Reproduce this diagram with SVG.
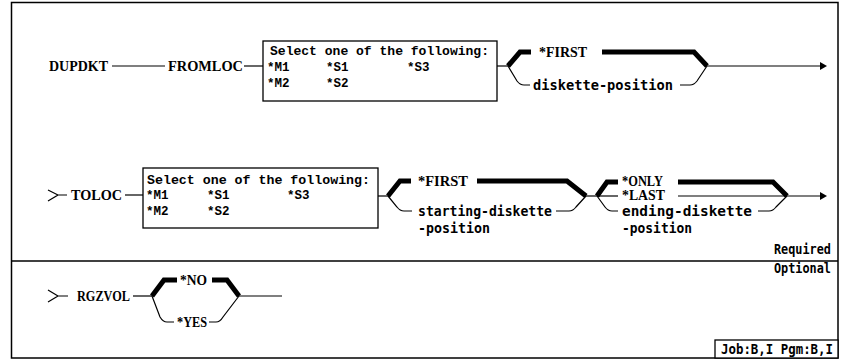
<svg xmlns="http://www.w3.org/2000/svg" width="842" height="361" viewBox="0 0 842 361">
<defs>
<style>
.kw{font-family:"Liberation Serif",serif;font-weight:bold;font-size:14px;fill:#000}
.mono{font-family:"Liberation Mono",monospace;font-weight:bold;font-size:12.5px;fill:#000}
.gth{font-family:"DejaVu Sans Mono",monospace;font-weight:bold;font-size:13.5px;fill:#000}
.thin{fill:none;stroke:#000;stroke-width:1.2}
.thick{fill:none;stroke:#000;stroke-width:5;stroke-linejoin:miter}
.box{fill:#fff;stroke:#000;stroke-width:1.3}
.arrow{fill:#000}
</style>
</defs>
<rect x="0" y="0" width="842" height="361" fill="#fff"/>
<g id="frame">
<rect x="11.5" y="2.5" width="826.5" height="355.5" fill="none" stroke="#000" stroke-width="1.5"/>
<line x1="11.5" y1="261" x2="838" y2="261" stroke="#000" stroke-width="1.5"/>
<text class="gth" x="774" y="254" font-size="12" textLength="57" lengthAdjust="spacingAndGlyphs">Required</text>
<text class="gth" x="774" y="273" font-size="12" textLength="57" lengthAdjust="spacingAndGlyphs">Optional</text>
</g>
<g id="job-box">
<rect x="715" y="340" width="123" height="18" fill="#fff" stroke="#000" stroke-width="1.3"/>
<text class="gth" x="721" y="354" font-size="11.5" textLength="112" lengthAdjust="spacingAndGlyphs">Job:B,I Pgm:B,I</text>
</g>
<g id="connectors">
<!-- row 1 -->
<path class="thin" d="M112,66 L165,66"/>
<path class="thin" d="M244,66 L263,66"/>
<path class="thin" d="M497,66 L508,66"/>
<path class="thick" d="M508,66 L520,52 L531,52"/>
<path class="thick" d="M602,52 L694,52 L707,66"/>
<path class="thin" d="M508,66 L517,81 Q520,85 524,85 L530,85"/>
<path class="thin" d="M680,85 L690,85 Q694,85 697,81 L707,66"/>
<path class="thin" d="M707,66 L821,66"/>
<polygon class="arrow" points="820,62 827,66 820,70"/>
<!-- row 2 -->
<path class="thin" d="M48,190 L58,195 L48,201 M58,195 L67,195"/>
<path class="thin" d="M125,195 L143,195"/>
<path class="thin" d="M378,196 L388,196"/>
<path class="thick" d="M388,196 L400,181 L411,181"/>
<path class="thick" d="M477,181 L567,181 L586,196"/>
<path class="thin" d="M388,196 L397,207 Q400,211 404,211 L412,211"/>
<path class="thin" d="M556,211 L569,211 Q573,211 576,207 L586,196"/>
<path class="thin" d="M586,196 L597,196"/>
<path class="thick" d="M597,196 L607,182 L618,182"/>
<path class="thick" d="M678,182 L773,182 L787,196"/>
<path class="thin" d="M597,196 L618,196"/>
<path class="thin" d="M597,196 L605,207 Q608,211 612,211 L618,211"/>
<path class="thin" d="M758,211 L769,211 Q773,211 776,207 L787,196"/>
<path class="thin" d="M678,196 L821,196"/>
<polygon class="arrow" points="820,192 827,196 820,200"/>
<!-- row 3 -->
<path class="thin" d="M48,290 L58,296 L48,302 M58,296 L68,296"/>
<path class="thin" d="M133,296 L152,296"/>
<path class="thick" d="M152,296 L164,280 L177,280"/>
<path class="thick" d="M212,280 L227,280 L239,296"/>
<path class="thin" d="M152,296 L160,317 Q163,322 167,322 L174,322"/>
<path class="thin" d="M209,322 L216,322 Q220,322 223,317 L239,296"/>
<path class="thin" d="M239,296 L282,296"/>
</g>
<g id="dupdkt"><text class="kw" x="49" y="71" textLength="59" lengthAdjust="spacingAndGlyphs">DUPDKT</text></g>
<g id="fromloc"><text class="kw" x="168" y="71" textLength="75" lengthAdjust="spacingAndGlyphs">FROMLOC</text></g>
<g id="fromloc-choices">
<rect class="box" x="263" y="41" width="234" height="60"/>
<text class="mono" x="270" y="55" textLength="219" lengthAdjust="spacingAndGlyphs">Select one of the following:</text>
<text class="mono" x="267" y="71">*M1</text>
<text class="mono" x="326" y="71">*S1</text>
<text class="mono" x="407" y="71">*S3</text>
<text class="mono" x="267" y="87">*M2</text>
<text class="mono" x="326" y="87">*S2</text>
</g>
<g id="fromloc-pos">
<text class="kw" x="539" y="57" textLength="48" lengthAdjust="spacingAndGlyphs">*FIRST</text>
<text class="gth" x="533" y="90" textLength="140" lengthAdjust="spacingAndGlyphs">diskette-position</text>
</g>
<g id="toloc"><text class="kw" x="71" y="200" textLength="51" lengthAdjust="spacingAndGlyphs">TOLOC</text></g>
<g id="toloc-choices">
<rect class="box" x="143" y="168" width="235" height="60"/>
<text class="mono" x="147" y="184" textLength="223" lengthAdjust="spacingAndGlyphs">Select one of the following:</text>
<text class="mono" x="146" y="199">*M1</text>
<text class="mono" x="207" y="199">*S1</text>
<text class="mono" x="287" y="199">*S3</text>
<text class="mono" x="146" y="215">*M2</text>
<text class="mono" x="207" y="215">*S2</text>
</g>
<g id="toloc-start">
<text class="kw" x="418" y="186" textLength="50" lengthAdjust="spacingAndGlyphs">*FIRST</text>
<text class="gth" x="418" y="216" textLength="134" lengthAdjust="spacingAndGlyphs">starting-diskette</text>
<text class="gth" x="418" y="233" textLength="72" lengthAdjust="spacingAndGlyphs">-position</text>
</g>
<g id="toloc-end">
<text class="kw" x="622" y="186" font-size="13" textLength="41" lengthAdjust="spacingAndGlyphs">*ONLY</text>
<text class="kw" x="622" y="200" font-size="13" textLength="43" lengthAdjust="spacingAndGlyphs">*LAST</text>
<text class="gth" x="622" y="216" textLength="130" lengthAdjust="spacingAndGlyphs">ending-diskette</text>
<text class="gth" x="622" y="233" textLength="70" lengthAdjust="spacingAndGlyphs">-position</text>
</g>
<g id="rgzvol"><text class="kw" x="77" y="301" textLength="53" lengthAdjust="spacingAndGlyphs">RGZVOL</text></g>
<g id="rgzvol-values">
<text class="kw" x="180" y="285" textLength="27" lengthAdjust="spacingAndGlyphs">*NO</text>
<text class="kw" x="177" y="327" textLength="30" lengthAdjust="spacingAndGlyphs">*YES</text>
</g>
</svg>
